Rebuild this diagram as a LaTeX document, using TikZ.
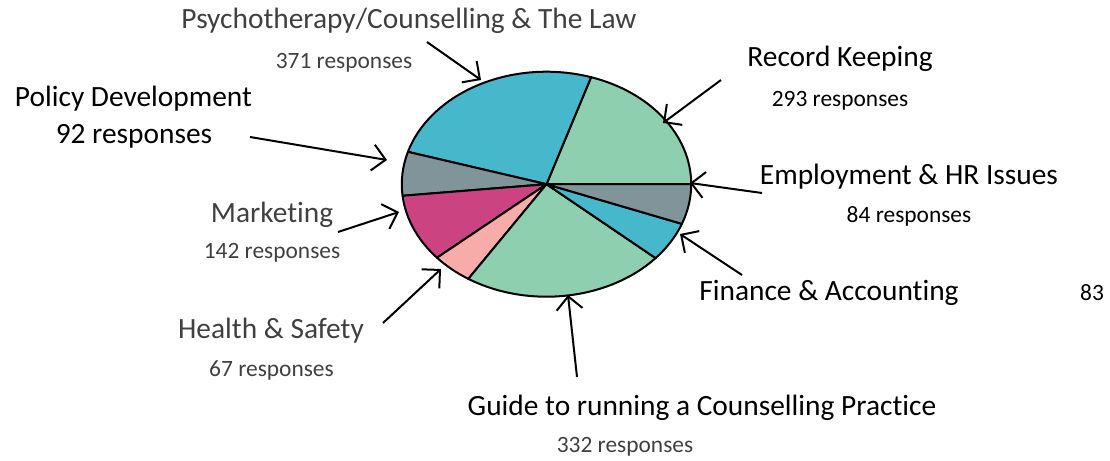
\documentclass[tikz,border=0pt]{standalone}
\usepackage{fontspec}
\setmainfont{Carlito}[Ligatures=NoCommon]
\usetikzlibrary{arrows.meta}
\usepackage{xcolor}
\definecolor{PieTeal}{HTML}{47B7CB}
\definecolor{PieMint}{HTML}{8ECFAF}
\definecolor{PieGray}{HTML}{7F959A}
\definecolor{PieMagenta}{HTML}{CB4481}
\definecolor{PiePink}{HTML}{F7ACAA}
\definecolor{LabelGray}{HTML}{404040}

\begin{document}
\begin{tikzpicture}[x=0.5pt, y=-0.5pt,
        big/.style={font=\fontsize{14.7}{17}\selectfont, anchor=base},
        small/.style={font=\fontsize{11.7}{14}\selectfont, anchor=base},
        pointer/.style={-{Straight Barb[length=6.5pt, width=13pt]}, line width=1pt}]
                \useasboundingbox (0,0) rectangle (1110,461);
                % slices, counted from 0 degrees upwards
                \foreach \a/\b/\c in {0/72.05/PieMint, 72.05/163.28/PieTeal, 163.28/185.90/PieGray,
                        185.90/220.82/PieMagenta, 220.82/237.30/PiePink, 237.30/318.93/PieMint,
                        318.93/339.34/PieTeal, 339.34/360/PieGray} {
                    \filldraw[fill=\c, line width=1pt, line join=round] (546.5,184.2) -- ++(-\a:144.7 and 112.5)
                        arc[start angle=-\a, end angle=-\b, x radius=144.7, y radius=112.5] -- cycle;
                }
                \node[big, text=LabelGray] (lawLabel) at (409,28) {Psychotherapy/Counselling \& The Law};
                \node[small, text=LabelGray] (lawCount) at (344,68) {371 responses};
                \node[big] (policyLabel) at (133.5,106) {Policy Development};
                \node[big] (policyCount) at (134,143) {92 responses};
                \node[big] (recordLabel) at (840,66) {Record Keeping};
                \node[small] (recordCount) at (840,106) {293 responses};
                \node[big] (hrLabel) at (909,184) {Employment \& HR Issues};
                \node[small] (hrCount) at (909,222) {84 responses};
                \node[big] (financeLabel) at (829,300) {Finance \& Accounting};
                \node[small] (financeCount) at (1092,300) {83};
                \node[big, text=LabelGray] (marketLabel) at (272,222) {Marketing};
                \node[small, text=LabelGray] (marketCount) at (272,258) {142 responses};
                \node[big, text=LabelGray] (safetyLabel) at (271,338) {Health \& Safety};
                \node[small, text=LabelGray] (safetyCount) at (271.5,376) {67 responses};
                \node[big] (guideLabel) at (702,415) {Guide to running a Counselling Practice};
                \node[small, text=LabelGray] (guideCount) at (625,452) {332 responses};
                % arrow ends
                \coordinate (law-tail) at (427,42);      \coordinate (law-tip) at (481,80);
                \coordinate (record-tail) at (721,80);   \coordinate (record-tip) at (663,123);
                \coordinate (policy-tail) at (250,137);  \coordinate (policy-tip) at (387,160);
                \coordinate (hr-tail) at (762,193);      \coordinate (hr-tip) at (690,183);
                \coordinate (finance-tail) at (742,275); \coordinate (finance-tip) at (680,234);
                \coordinate (market-tail) at (338,232);  \coordinate (market-tip) at (399,212);
                \coordinate (safety-tail) at (383,323);  \coordinate (safety-tip) at (441,269);
                \coordinate (guide-tail) at (577,377);   \coordinate (guide-tip) at (568,295);
                \foreach \n in {law, record, policy, hr, finance, market, safety, guide} {
                    \draw[pointer] (\n-tail) -- (\n-tip);
                }
            \end{tikzpicture}
\end{document}
